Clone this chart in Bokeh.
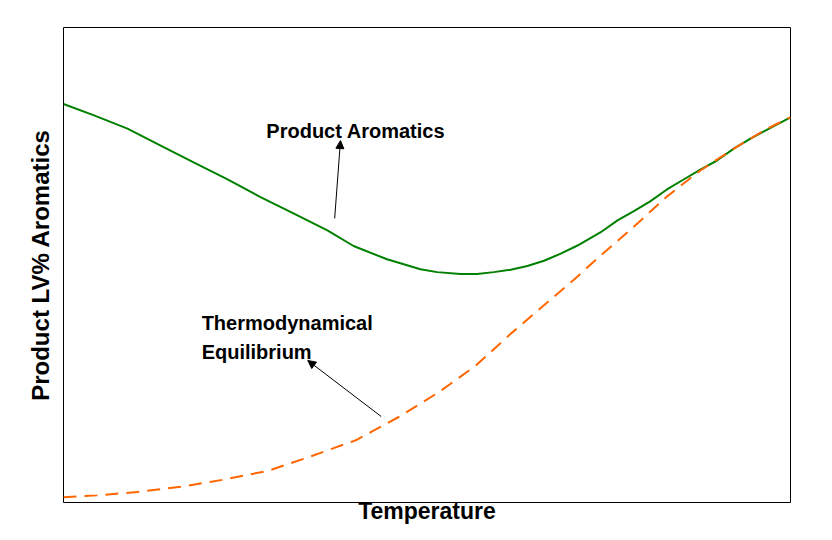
from bokeh.plotting import figure
from bokeh.models import Range1d, Arrow, NormalHead, Label, FixedTicker
from bokeh.embed import file_html
from bokeh.resources import INLINE

# Data (relative units, axes have no scale)
aro_x = [0.0, 4.2, 8.8, 13.3, 17.9, 22.5, 27.1, 31.7, 36.3, 39.9, 44.5, 49.1, 51.4, 54.6,
         56.9, 59.2, 61.5, 63.8, 66.1, 68.4, 70.7, 73.9, 76.2, 78.4, 80.7, 83.0, 85.3,
         87.6, 89.9, 92.2, 94.5, 96.8, 100.0]
aro_y = [83.9, 81.5, 78.7, 75.2, 71.6, 68.1, 64.3, 60.8, 57.3, 54.0, 51.2, 49.1, 48.5, 48.1,
         48.1, 48.5, 49.0, 49.8, 50.9, 52.4, 54.1, 56.9, 59.4, 61.3, 63.4, 65.9, 68.0,
         70.1, 72.0, 74.5, 76.6, 78.5, 81.1]

eq_x = [0.0, 4.6, 10.1, 16.1, 22.0, 28.2, 34.0, 40.2, 46.1, 51.6, 56.7, 61.5, 66.3,
        70.2, 73.9, 78.4, 83.0, 87.6, 92.2, 96.8, 100.0]
eq_y = [1.1, 1.5, 2.2, 3.3, 4.8, 6.7, 9.7, 13.1, 18.0, 23.2, 28.8, 35.5, 41.8,
        46.9, 52.0, 58.0, 64.4, 69.9, 74.5, 78.7, 81.1]

x_label = "Temperature"
y_label = "Product LV% Aromatics"

FONT = "Liberation Sans"

p = figure(width=832, height=540, output_backend="svg", toolbar_location=None,
           x_range=Range1d(0, 100), y_range=Range1d(0, 100),
           min_border_left=63, min_border_right=42, min_border_top=27, min_border_bottom=38)
p.background_fill_color = "white"
p.border_fill_color = "white"
p.outline_line_color = "black"
p.outline_line_width = 1
p.outline_line_alpha = 1
p.grid.visible = False

for ax in (p.xaxis, p.yaxis):
    ax.ticker = FixedTicker(ticks=[])
    ax.major_tick_line_color = None
    ax.minor_tick_line_color = None
    ax.major_label_text_font_size = "0px"
    ax.axis_line_color = None
    ax.axis_label_text_font = FONT
    ax.axis_label_text_font_style = "bold"
    ax.axis_label_text_color = "black"

p.xaxis.axis_label = x_label
p.xaxis.axis_label_text_font_size = "23px"
p.xaxis.axis_label_standoff = -5
p.yaxis.axis_label = y_label
p.yaxis.axis_label_text_font_size = "24px"
p.yaxis.axis_label_standoff = 10

p.line(aro_x, aro_y, line_color="#008000", line_width=2)
p.line(eq_x, eq_y, line_color="#FF6600", line_width=2, line_dash="13 8")

p.add_layout(Arrow(x_start=37.3, y_start=59.8, x_end=38.1, y_end=76.2,
                   line_color="black", line_width=1,
                   end=NormalHead(size=8, fill_color="black", line_color="black")))
p.add_layout(Arrow(x_start=43.7, y_start=18.1, x_end=33.6, y_end=29.9,
                   line_color="black", line_width=1,
                   end=NormalHead(size=8, fill_color="black", line_color="black")))

for txt, x, y in [("Product Aromatics", 27.9, 78.3),
                  ("Thermodynamical", 19.0, 37.7),
                  ("Equilibrium", 19.0, 31.6)]:
    p.add_layout(Label(x=x, y=y, text=txt, text_font=FONT, text_font_style="bold",
                       text_font_size="20px", text_baseline="middle", text_align="left",
                       text_color="black"))

open("out.html", "w").write(file_html(p, INLINE))
